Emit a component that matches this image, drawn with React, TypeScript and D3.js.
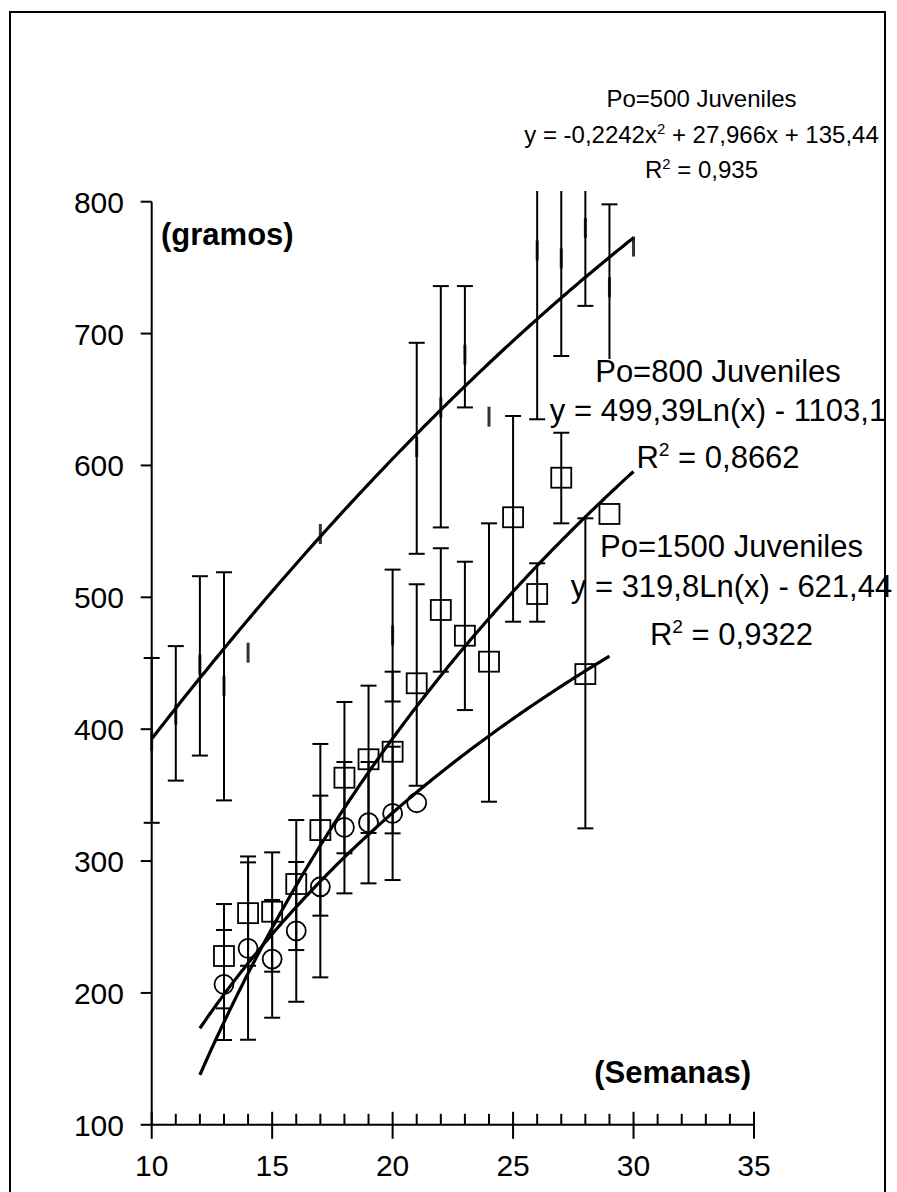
import React from 'react';
import * as d3 from 'd3';

const W = 897;
const H = 1192;

// Axis ticks
const xMajorTicks = [10, 15, 20, 25, 30, 35];
const xMinorTicks = [11, 12, 13, 14, 16, 17, 18, 19, 21, 22, 23, 24, 26, 27, 28, 29, 31, 32, 33, 34];
const yTicks = [100, 200, 300, 400, 500, 600, 700, 800];

// Po=500 Juveniles (dash markers)
const po500Weeks = [10, 11, 12, 13, 14, 17, 20, 21, 22, 23, 24, 26, 27, 28, 29, 30];
const po500Means = [391, 411, 449, 433, 458, 548, 471, 614, 644, 684, 637, 763, 757, 780, 735, 766];
const po500ErrWeeks = [10, 11, 12, 13, 20, 21, 22, 23, 26, 27, 28, 29];
const po500ErrLow = [329, 361, 380, 346, 421, 533, 553, 644, 635, 683, 721, 672];
const po500ErrHigh = [454, 463, 516, 519, 521, 693, 736, 736, 891, 831, 839, 798];

// Po=800 Juveniles (squares)
const po800Weeks = [13, 14, 15, 16, 17, 18, 19, 20, 21, 22, 23, 24, 25, 26, 27, 28, 29];
const po800Means = [228, 260.5, 261.6, 282.6, 323.5, 363.2, 377.2, 382.9, 434.8, 490.4, 470.9, 451.2, 560.7, 502.5, 590.7, 441.8, 563.2];
const po800ErrLow = [188.3, 220.6, 216.1, 232.5, 258.6, 305.9, 321.3, 321, 357.1, 443.6, 414.5, 345, 481.5, 481.5, 556.1, 324.8, null];
const po800ErrHigh = [267.4, 299, 306.6, 331.1, 388.8, 420.6, 433, 443.6, 509.9, 537.2, 527, 556.1, 637.5, 525.8, 624.8, 559.9, null];

// Po=1500 Juveniles (circles)
const po1500Weeks = [13, 14, 15, 16, 17, 18, 19, 20, 21];
const po1500Means = [206.5, 233.8, 225.7, 247, 280.5, 325.6, 329.1, 336.2, 344.2];
const po1500ErrLow = [164.3, 164.5, 181.2, 193.3, 211.8, 275.5, 283.1, 285.6, null];
const po1500ErrHigh = [247.7, 303.5, 270.5, 299.3, 349.6, 375.1, 375.1, 386.7, null];

// Trend lines (from the printed equations)
const trend500 = { a: -0.2242, b: 27.966, c: 135.44, from: 10, to: 30 };
const trend800 = { k: 499.39, c: -1103.1, from: 12, to: 30 };
const trend1500 = { k: 319.8, c: -621.44, from: 12, to: 29 };

const FONT = "'Liberation Sans', Arial, Helvetica, sans-serif";

const x = d3.scaleLinear().domain([10, 35]).range([151.7, 754]);
const y = d3.scaleLinear().domain([100, 800]).range([1124.8, 201.7]);

function curve(fn: (v: number) => number, from: number, to: number) {
  const pts: [number, number][] = [];
  const n = 200;
  for (let i = 0; i <= n; i++) {
    const v = from + ((to - from) * i) / n;
    pts.push([x(v), y(fn(v))]);
  }
  return d3.line()(pts) || '';
}

function ErrBar({ wk, lo, hi }: { wk: number; lo: number; hi: number }) {
  const cx = x(wk);
  const y1 = y(lo);
  const y2 = y(hi);
  const c = 8;
  return (
    <g stroke="#000" strokeWidth={2}>
      <line x1={cx} x2={cx} y1={y1} y2={y2} />
      <line x1={cx - c} x2={cx + c} y1={y1} y2={y1} />
      <line x1={cx - c} x2={cx + c} y1={y2} y2={y2} />
    </g>
  );
}

function SupLine({ cx, by, fs, parts }: { cx: number; by: number; fs: number; parts: { t: string; sup?: boolean }[] }) {
  const shift = fs * 0.4;
  let prevSup = false;
  return (
    <text x={cx} y={by} textAnchor="middle" fontFamily={FONT} fontSize={fs} fill="#000">
      {parts.map((p, i) => {
        let dy = 0;
        if (p.sup && !prevSup) dy = -shift;
        if (!p.sup && prevSup) dy = shift;
        prevSup = !!p.sup;
        return (
          <tspan key={i} dy={dy} fontSize={p.sup ? fs * 0.62 : fs}>
            {p.t}
          </tspan>
        );
      })}
    </text>
  );
}

export default function App() {
  const t500 = curve((v) => trend500.a * v * v + trend500.b * v + trend500.c, trend500.from, trend500.to);
  const t800 = curve((v) => trend800.k * Math.log(v) + trend800.c, trend800.from, trend800.to);
  const t1500 = curve((v) => trend1500.k * Math.log(v) + trend1500.c, trend1500.from, trend1500.to);
  const yAxisBottom = y(100);
  const sq = 20;
  return (
    <svg width={W} height={H} style={{ position: 'absolute', left: 0, top: 0, background: '#fff' }}>
      <defs>
        <clipPath id="plot">
          <rect x={0} y={191} width={W} height={1000} />
        </clipPath>
      </defs>
      <rect x={10} y={12} width={875} height={1200} fill="#fff" stroke="#000" strokeWidth={2} />

      {/* Axes */}
      <g stroke="#000" strokeWidth={2}>
        <line x1={x(10)} x2={x(10)} y1={y(800)} y2={yAxisBottom} />
        <line x1={x(10)} x2={x(35)} y1={yAxisBottom} y2={yAxisBottom} />
        {yTicks.map((t) => (
          <line key={'yt' + t} x1={x(10) - 11} x2={x(10)} y1={y(t)} y2={y(t)} />
        ))}
        {xMajorTicks.map((t) => (
          <line key={'xt' + t} x1={x(t)} x2={x(t)} y1={yAxisBottom - 13} y2={yAxisBottom + 14} />
        ))}
        {xMinorTicks.map((t) => (
          <line key={'xm' + t} x1={x(t)} x2={x(t)} y1={yAxisBottom - 11} y2={yAxisBottom} />
        ))}
      </g>
      <g fontFamily={FONT} fontSize={30} fill="#000">
        {yTicks.map((t) => (
          <text key={'yl' + t} x={124} y={y(t) + 11} textAnchor="end">
            {t}
          </text>
        ))}
        {xMajorTicks.map((t) => (
          <text key={'xl' + t} x={x(t)} y={1176} textAnchor="middle">
            {t}
          </text>
        ))}
      </g>
      <text x={161} y={245} fontFamily={FONT} fontSize={31} fontWeight="bold" fill="#000">
        (gramos)
      </text>
      <text x={751} y={1083} textAnchor="end" fontFamily={FONT} fontSize={31} fontWeight="bold" fill="#000">
        (Semanas)
      </text>

      <g clipPath="url(#plot)">
        {/* Po=500 dash markers */}
        {po500Weeks.map((wk, i) => (
          <line key={'m5' + i} x1={x(wk)} x2={x(wk)} y1={y(po500Means[i]) - 10} y2={y(po500Means[i]) + 10} stroke="#333" strokeWidth={3} />
        ))}
        {/* Error bars */}
        {po500ErrWeeks.map((wk, i) => (
          <ErrBar key={'e5' + i} wk={wk} lo={po500ErrLow[i]} hi={po500ErrHigh[i]} />
        ))}
        {po800Weeks.map((wk, i) =>
          po800ErrLow[i] == null ? null : <ErrBar key={'e8' + i} wk={wk} lo={po800ErrLow[i] as number} hi={po800ErrHigh[i] as number} />
        )}
        {po1500Weeks.map((wk, i) =>
          po1500ErrLow[i] == null ? null : <ErrBar key={'e15' + i} wk={wk} lo={po1500ErrLow[i] as number} hi={po1500ErrHigh[i] as number} />
        )}
        {/* Markers */}
        {po800Weeks.map((wk, i) => (
          <rect key={'s' + i} x={x(wk) - sq / 2} y={y(po800Means[i]) - sq / 2} width={sq} height={sq} fill="none" stroke="#000" strokeWidth={1.8} />
        ))}
        {po1500Weeks.map((wk, i) => (
          <circle key={'c' + i} cx={x(wk)} cy={y(po1500Means[i])} r={9.5} fill="none" stroke="#000" strokeWidth={1.8} />
        ))}
        {/* Trend lines */}
        <g fill="none" stroke="#000" strokeWidth={3.2} strokeLinejoin="round">
          <path d={t500} />
          <path d={t800} />
          <path d={t1500} />
        </g>
      </g>

      {/* Trendline labels */}
      <SupLine cx={701.5} by={106.7} fs={24} parts={[{ t: 'Po=500 Juveniles' }]} />
      <SupLine
        cx={701.5}
        by={143.3}
        fs={24}
        parts={[{ t: 'y = -0,2242x' }, { t: '2', sup: true }, { t: ' + 27,966x + 135,44' }]}
      />
      <SupLine cx={701.5} by={178.3} fs={24} parts={[{ t: 'R' }, { t: '2', sup: true }, { t: ' = 0,935' }]} />

      <rect x={595} y={359} width={252} height={110} fill="#fff" />
      <SupLine cx={718} by={381.7} fs={31} parts={[{ t: 'Po=800 Juveniles' }]} />
      <SupLine cx={718} by={420.5} fs={31} parts={[{ t: 'y = 499,39Ln(x) - 1103,1' }]} />
      <SupLine cx={718} by={468.3} fs={31} parts={[{ t: 'R' }, { t: '2', sup: true }, { t: ' = 0,8662' }]} />

      <SupLine cx={731.5} by={556.7} fs={31} parts={[{ t: 'Po=1500 Juveniles' }]} />
      <SupLine cx={731.5} by={596.7} fs={31} parts={[{ t: 'y = 319,8Ln(x) - 621,44' }]} />
      <SupLine cx={731.5} by={645} fs={31} parts={[{ t: 'R' }, { t: '2', sup: true }, { t: ' = 0,9322' }]} />
    </svg>
  );
}
